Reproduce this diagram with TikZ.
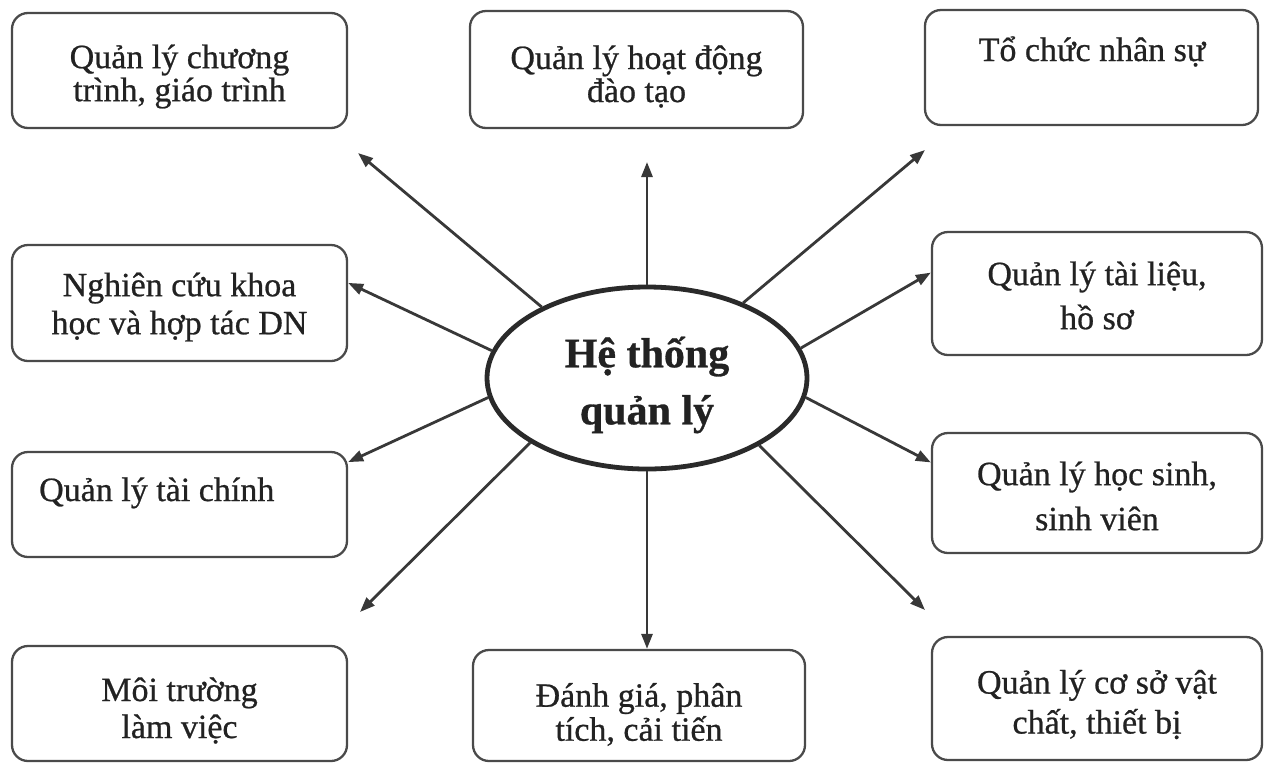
\documentclass[tikz,border=0pt]{standalone}
\usepackage{fontspec}
\setmainfont{Liberation Serif}[FakeBold=0.7]
\usetikzlibrary{shapes.geometric,arrows.meta,calc}
\definecolor{txtc}{HTML}{222222}
\definecolor{boxc}{HTML}{4A4A4A}
\definecolor{arrc}{HTML}{383838}
\definecolor{ellc}{HTML}{2A2A2A}
\begin{document}
\begin{tikzpicture}[x=1pt,y=-1pt,
  mybox/.style={draw=boxc, line width=2.3pt, rounded corners=16pt, rectangle, inner sep=0pt},
  bt/.style={inner sep=0pt, align=center, text=txtc, font=\fontsize{34}{#1}\selectfont},
  conn/.style={draw=arrc, line width=2.8pt, -{Triangle[length=15pt,width=11pt]}},
  hub/.style={ellipse, draw=ellc, line width=4.8pt, inner sep=0pt}
]
\useasboundingbox (0,0) rectangle (1271,764);

% boxes
\node[mybox, minimum width=335pt, minimum height=115pt] (b1) at (179.5,70.5) {};
\node[mybox, minimum width=333pt, minimum height=117pt] (b2) at (636.5,69.5) {};
\node[mybox, minimum width=333pt, minimum height=115pt] (b3) at (1091.5,67.5) {};
\node[mybox, minimum width=335pt, minimum height=116pt] (b4) at (179.5,303) {};
\node[mybox, minimum width=335pt, minimum height=105pt] (b5) at (179.5,504.5) {};
\node[mybox, minimum width=335pt, minimum height=115pt] (b6) at (179.5,703.5) {};
\node[mybox, minimum width=332pt, minimum height=111pt] (b7) at (639,705.5) {};
\node[mybox, minimum width=330pt, minimum height=123pt] (b8) at (1097,293.5) {};
\node[mybox, minimum width=330pt, minimum height=120pt] (b9) at (1097,493) {};
\node[mybox, minimum width=330pt, minimum height=123pt] (b10) at (1097,698.5) {};

% box texts
\node[bt=33] (b1t) at ([yshift=-6pt]b1.center) {Quản lý chương\\trình, giáo trình};
\node[bt=33] (b2t) at ([yshift=-7pt]b2.center) {Quản lý hoạt động\\đào tạo};
\node[bt=34, anchor=base] (b3t) at (1092,61) {Tổ chức nhân sự};
\node[bt=38] (b4t) at ([yshift=-4pt]b4.center) {Nghiên cứu khoa\\học và hợp tác DN};
\node[bt=34, anchor=base west] (b5t) at (39,501) {Quản lý tài chính};
\node[bt=37] (b6t) at ([yshift=-7pt]b6.center) {Môi trường\\làm việc};
\node[bt=34] (b7t) at ([yshift=-9pt]b7.center) {Đánh giá, phân\\tích, cải tiến};
\node[bt=44] (b8t) at ([yshift=-2pt]b8.center) {Quản lý tài liệu,\\hồ sơ};
\node[bt=45] (b9t) at ([yshift=-3pt]b9.center) {Quản lý học sinh,\\sinh viên};
\node[bt=40] (b10t) at ([yshift=-6pt]b10.center) {Quản lý cơ sở vật\\chất, thiết bị};

% hub
\node[hub, minimum width=320pt, minimum height=182pt] (E) at (647,378) {};
\node[inner sep=0pt, align=center, text=txtc, font=\fontsize{42}{57}\selectfont\bfseries] (Et) at ([yshift=-7pt]E.center) {Hệ thống\\quản lý};

% free arrow ends
\coordinate (t1) at (358,153);
\coordinate (t2) at (647,162);
\coordinate (t3) at (925,150);
\coordinate (t6) at (925,610);
\coordinate (t8) at (360,612);

% connectors
\draw[conn] (E.146) -- (t1);
\draw[conn] (E.north) -- (t2);
\draw[conn] (E.38) -- (t3);
\draw[conn] (E.11.5) -- ($(b8.north west)!0.333!(b8.south west)$);
\draw[conn] (E.-7.8) -- ($(b9.north west)!0.25!(b9.south west)$);
\draw[conn] (E.-31.8) -- (t6);
\draw[conn] (E.south) -- (E.south |- b7.north);
\draw[conn] (E.209.8) -- (t8);
\draw[conn] (E.187.8) -- ($(b5.north east)!0.105!(b5.south east)$);
\draw[conn] (E.170.8) -- ($(b4.north east)!0.33!(b4.south east)$);
\end{tikzpicture}
\end{document}
